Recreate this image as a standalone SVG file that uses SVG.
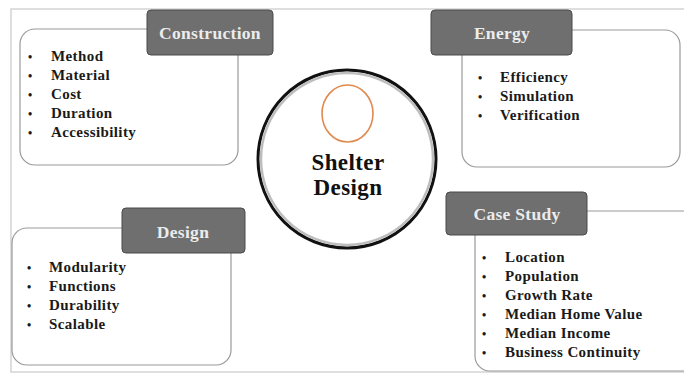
<svg xmlns="http://www.w3.org/2000/svg" width="684" height="374" viewBox="0 0 684 374">
<style>
.frame{fill:none;stroke:#d4d4d4;stroke-width:1.5}
.box{fill:#fff;stroke:#9a9a9a;stroke-width:1.2}
.tab{fill:#6f6f6f;stroke:#4a4a4a;stroke-width:1}
.tabt{font-family:"Liberation Serif",serif;font-weight:bold;font-size:17.5px;letter-spacing:0.3px;fill:#ececec;text-anchor:middle}
.item{font-family:"Liberation Serif",serif;font-weight:bold;font-size:15px;letter-spacing:0.4px;fill:#1a1a1a}
.dot{font-family:"Liberation Serif",serif;font-weight:bold;font-size:12px;fill:#1a1a1a}
.title{font-family:"Liberation Serif",serif;font-weight:bold;font-size:23px;letter-spacing:0.4px;fill:#111;text-anchor:middle}
</style>
<rect width="684" height="374" fill="#fff"/>
<rect class="frame" x="11" y="9" width="690" height="363"/>
<g id="connectors"></g>
<g id="construction">
<rect class="box" x="20" y="29" width="218" height="136" rx="15"/>
<rect class="tab" x="147" y="10" width="126" height="45" rx="4"/>
<text class="tabt" x="210" y="39">Construction</text>
<g class="dot">
<text x="28" y="61">•</text><text x="28" y="80">•</text><text x="28" y="99">•</text><text x="28" y="118">•</text><text x="28" y="137">•</text>
</g>
<g class="item">
<text x="51" y="61">Method</text>
<text x="51" y="80">Material</text>
<text x="51" y="99">Cost</text>
<text x="51" y="118">Duration</text>
<text x="51" y="137">Accessibility</text>
</g>
</g>
<g id="energy">
<rect class="box" x="462" y="30" width="218" height="137" rx="15"/>
<rect class="tab" x="431" y="10" width="141" height="45" rx="4"/>
<text class="tabt" x="502" y="39">Energy</text>
<g class="dot">
<text x="478" y="82">•</text><text x="478" y="101">•</text><text x="478" y="120">•</text>
</g>
<g class="item">
<text x="500" y="82">Efficiency</text>
<text x="500" y="101">Simulation</text>
<text x="500" y="120">Verification</text>
</g>
</g>
<g id="design">
<rect class="box" x="12" y="228" width="219" height="137" rx="15"/>
<rect class="tab" x="122" y="208" width="123" height="45" rx="4"/>
<text class="tabt" x="183" y="238">Design</text>
<g class="dot">
<text x="27" y="272">•</text><text x="27" y="291">•</text><text x="27" y="310">•</text><text x="27" y="329">•</text>
</g>
<g class="item">
<text x="49" y="272">Modularity</text>
<text x="49" y="291">Functions</text>
<text x="49" y="310">Durability</text>
<text x="49" y="329">Scalable</text>
</g>
</g>
<g id="casestudy">
<rect class="box" x="475" y="211" width="225" height="160" rx="15"/>
<rect class="tab" x="446" y="192" width="141" height="43" rx="4"/>
<text class="tabt" x="517" y="220">Case Study</text>
<g class="dot">
<text x="482" y="262">•</text><text x="482" y="281">•</text><text x="482" y="300">•</text><text x="482" y="319">•</text><text x="482" y="338">•</text><text x="482" y="357">•</text>
</g>
<g class="item">
<text x="505" y="262">Location</text>
<text x="505" y="281">Population</text>
<text x="505" y="300">Growth Rate</text>
<text x="505" y="319">Median Home Value</text>
<text x="505" y="338">Median Income</text>
<text x="505" y="357">Business Continuity</text>
</g>
</g>
<g id="shelter">
<circle cx="347" cy="159" r="89" fill="#fff" stroke="#111" stroke-width="3"/>
<circle cx="347" cy="159" r="86" fill="none" stroke="#bdbdbd" stroke-width="2.5"/>
<ellipse cx="347.5" cy="113.5" rx="25.5" ry="28.5" fill="#fff" stroke="#e08a50" stroke-width="1.6"/>
<text class="title" x="348" y="170">Shelter</text>
<text class="title" x="348" y="195">Design</text>
</g>
</svg>
